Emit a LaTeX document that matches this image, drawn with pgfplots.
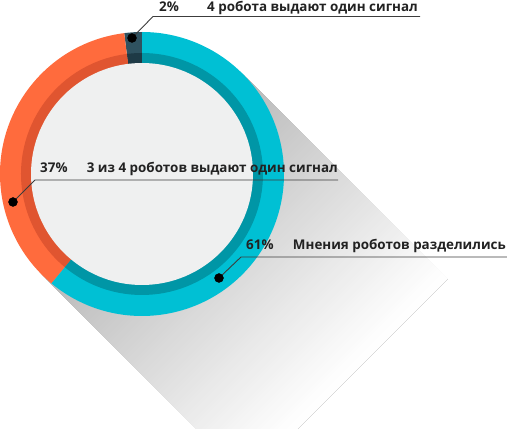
\documentclass[border=0pt]{standalone}
\usepackage{fontspec}
\setmainfont{Open Sans}
\usepackage{pgfplots}
\usepackage{pgfplotstable}
\pgfplotsset{compat=1.18}

\definecolor{orangeA}{RGB}{255,107,61}
\definecolor{orangeB}{RGB}{224,85,48}
\definecolor{cyanA}{RGB}{0,192,212}
\definecolor{cyanB}{RGB}{0,150,166}
\definecolor{slateA}{RGB}{47,82,96}
\definecolor{slateB}{RGB}{30,58,70}
\definecolor{disk}{RGB}{239,240,240}
\definecolor{txt}{RGB}{34,34,34}
\definecolor{leader}{RGB}{60,60,60}

\tikzset{lbl/.style={font=\fontsize{13.4}{15}\selectfont\bfseries, text=txt, inner sep=0pt}}

% shares in percent: 4 robots agree, opinions split, 3 of 4 agree
\pgfplotstableread{
share
2
61
37
}\shares

% piece of the donut: colour, start angle, end angle, radius
\newcommand\donutpiece[4]{%
  \fill[#1] (axis cs:142,255) -- ++(#2:#4) arc[start angle=#2, end angle=#3, radius=#4] -- cycle;}

\begin{document}
\begin{tikzpicture}
\pgfplotstablegetelem{0}{share}\of\shares \let\sA\pgfplotsretval
\pgfplotstablegetelem{1}{share}\of\shares \let\sB\pgfplotsretval
\pgfplotstablegetelem{2}{share}\of\shares \let\sC\pgfplotsretval
\pgfmathsetmacro\aA{90}
\pgfmathsetmacro\aB{\aA+3.6*\sA}
\pgfmathsetmacro\aC{\aB+3.6*\sC}
\pgfmathsetmacro\aD{\aC+3.6*\sB}
% long shadow, fading in steps (the axis sits at the origin with 1pt per unit)
\begin{scope}
  \clip (0,0) rectangle (507pt,429pt);
  \begin{scope}[shift={(142pt,255pt)}, rotate=-45]
    \foreach \i in {0,...,94} {
      \pgfmathsetmacro\g{28*(1-\i/95)}
      \fill[black!\g] ({\i*3pt},-142pt) rectangle (290pt,142pt);
    }
  \end{scope}
\end{scope}
\begin{axis}[
  x=1pt, y=1pt, xmin=0, xmax=507, ymin=0, ymax=429,
  anchor=south west, at={(0,0)},
  hide axis, clip=false,
]
% outer ring
\donutpiece{slateA}{\aA}{\aB}{142pt}
\donutpiece{orangeA}{\aB}{\aC}{142pt}
\donutpiece{cyanA}{\aC}{\aD}{142pt}
% inner band
\donutpiece{slateB}{\aA}{\aB}{121pt}
\donutpiece{orangeB}{\aB}{\aC}{121pt}
\donutpiece{cyanB}{\aC}{\aD}{121pt}
\fill[disk] (axis cs:142,255) circle[radius=111pt];

% leaders
\addplot[leader, line width=0.9pt, mark=none] coordinates {(132,391) (153,412.5) (420,412.5)};
\addplot[leader, line width=0.9pt, mark=none] coordinates {(13,227) (35,249) (338,249)};
\addplot[leader, line width=0.9pt, mark=none] coordinates {(219,151) (241,172) (507,172)};
\addplot[only marks, mark=*, mark size=4.5pt, black] coordinates {(132,391) (13,227) (219,151)};

\node[lbl, anchor=base west] at (axis cs:159,417) {\sA\%};
\node[lbl, anchor=base east] at (axis cs:418,417) {4 робота выдают один сигнал};
\node[lbl, anchor=base west] at (axis cs:40,256) {\sC\%};
\node[lbl, anchor=base east] at (axis cs:338,256) {3 из 4 роботов выдают один сигнал};
\node[lbl, anchor=base west] at (axis cs:246,179) {\sB\%};
\node[lbl, anchor=base east] at (axis cs:506,179) {Мнения роботов разделились};
\end{axis}
\pgfresetboundingbox
\path (0,0) rectangle (507pt,429pt);
\end{tikzpicture}
\end{document}
